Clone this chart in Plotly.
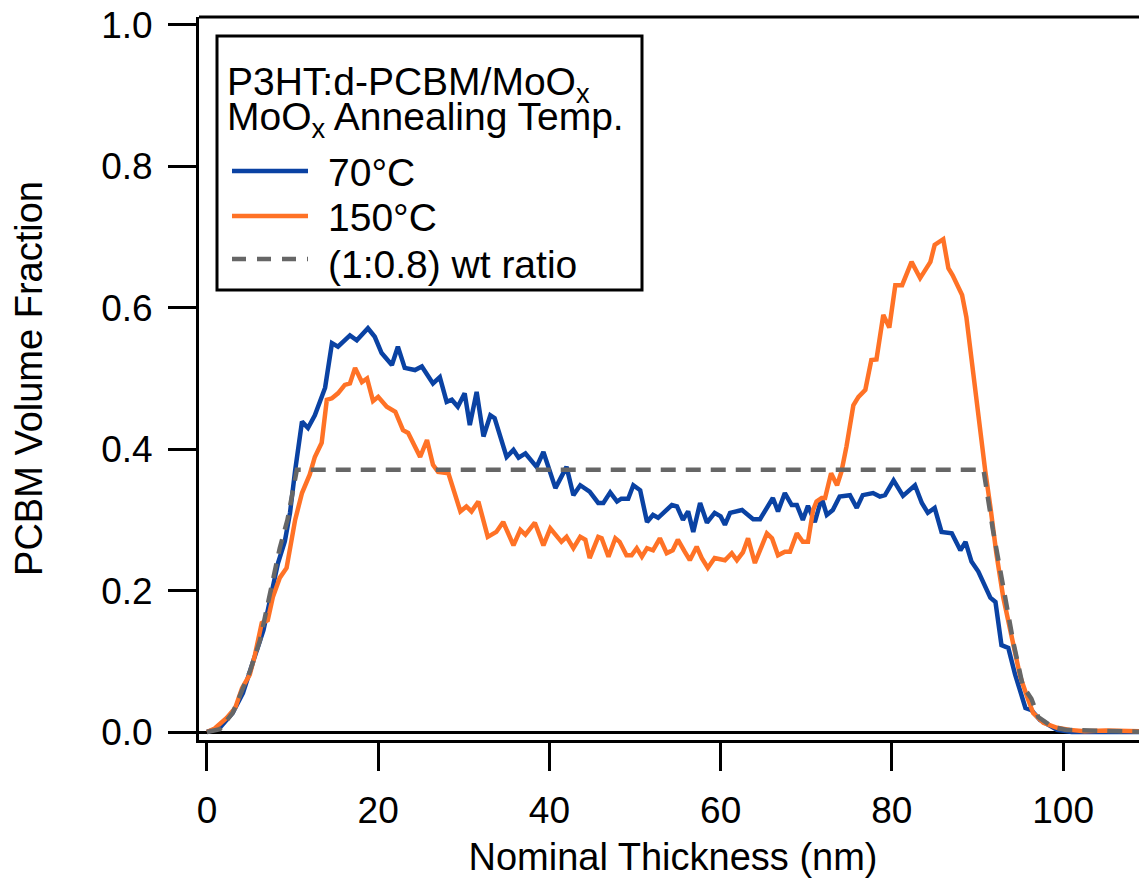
import plotly.graph_objects as go

# PCBM depth profiles
thick_70 = [0.0, 1.5, 3.0, 4.2, 5.4, 6.6, 7.6, 8.3, 9.1, 9.7, 10.3, 11.1, 11.8, 12.6, 13.8,
            14.6, 15.3, 16.7, 17.5, 18.8, 19.6, 20.4, 21.6, 22.3, 23.1, 24.3, 25.1, 26.4,
            27.2, 28.0, 28.6, 29.3, 30.1, 30.7, 31.5, 32.3, 33.1, 33.6, 35.0, 35.8, 36.4,
            37.2, 38.5, 39.3, 40.7, 42.0, 42.8, 43.6, 44.7, 45.7, 46.3, 47.1, 47.9, 48.4,
            49.2, 49.8, 50.6, 51.4, 52.1, 52.7, 54.3, 54.9, 55.6, 56.2, 56.8, 57.6, 58.4,
            59.3, 60.0, 60.5, 61.1, 62.5, 63.8, 64.6, 66.1, 66.7, 67.5, 68.3, 68.9, 69.6,
            70.2, 71.0, 71.8, 72.4, 73.1, 73.9, 75.1, 75.9, 76.6, 77.8, 78.6, 79.2, 80.2,
            81.3, 82.7, 83.5, 84.2, 85.0, 85.8, 87.0, 88.0, 88.6, 89.3, 90.1, 91.5, 92.1,
            92.8, 93.6, 94.4, 95.6, 96.3, 97.3, 99.3, 101.0, 104.0, 107.0, 110.0]
frac_70 = [0.000, 0.006, 0.027, 0.055, 0.100, 0.144, 0.200, 0.239, 0.270, 0.310, 0.370,
           0.439, 0.430, 0.448, 0.487, 0.550, 0.545, 0.561, 0.554, 0.571, 0.559, 0.536,
           0.519, 0.545, 0.515, 0.512, 0.517, 0.493, 0.502, 0.467, 0.470, 0.460, 0.479,
           0.434, 0.481, 0.418, 0.448, 0.444, 0.389, 0.399, 0.388, 0.394, 0.375, 0.396,
           0.345, 0.375, 0.335, 0.349, 0.340, 0.324, 0.324, 0.339, 0.326, 0.330, 0.330,
           0.349, 0.342, 0.297, 0.307, 0.303, 0.321, 0.319, 0.300, 0.312, 0.283, 0.324,
           0.296, 0.310, 0.305, 0.293, 0.310, 0.314, 0.301, 0.301, 0.331, 0.312, 0.338,
           0.321, 0.321, 0.300, 0.320, 0.297, 0.331, 0.307, 0.314, 0.333, 0.335, 0.317,
           0.335, 0.338, 0.333, 0.335, 0.356, 0.334, 0.349, 0.324, 0.310, 0.317, 0.283,
           0.281, 0.257, 0.269, 0.241, 0.227, 0.190, 0.184, 0.123, 0.119, 0.081, 0.034,
           0.031, 0.017, 0.003, 0.000, 0.000, 0.000, 0.000]

thick_150 = [0.0, 0.9, 2.3, 3.3, 4.1, 5.0, 5.6, 6.4, 7.1, 7.7, 8.5, 9.3, 10.3, 11.1, 12.0,
             12.6, 13.4, 14.0, 14.6, 15.3, 16.1, 16.7, 17.3, 18.1, 18.7, 19.4, 20.0, 21.0,
             22.0, 22.9, 23.5, 24.9, 25.7, 26.4, 27.0, 28.2, 29.6, 30.3, 30.9, 31.7, 32.8,
             33.8, 34.6, 35.8, 36.6, 37.2, 38.3, 39.3, 40.1, 41.4, 42.0, 42.8, 43.6, 44.2,
             44.7, 45.7, 46.1, 46.9, 47.7, 48.2, 49.0, 49.6, 50.2, 50.8, 51.4, 52.1, 52.9,
             53.7, 54.4, 55.0, 55.8, 56.4, 57.2, 57.8, 58.5, 59.3, 60.5, 61.3, 61.9, 62.6,
             63.2, 64.0, 65.4, 66.0, 66.7, 67.5, 68.1, 68.9, 69.6, 70.2, 70.8, 71.2, 71.8,
             72.2, 72.9, 73.6, 74.1, 74.7, 75.5, 76.1, 76.9, 77.6, 78.2, 79.0, 79.7, 80.4,
             81.2, 82.3, 83.3, 84.5, 85.0, 86.0, 86.6, 87.1, 88.2, 88.7, 89.5, 90.3, 90.9,
             91.5, 92.2, 93.0, 94.2, 95.0, 95.8, 96.5, 97.7, 99.3, 100.8, 102.5, 105.0,
             107.5, 110.0]
frac_150 = [0.000, 0.005, 0.020, 0.034, 0.062, 0.081, 0.109, 0.154, 0.158, 0.191, 0.218,
            0.232, 0.300, 0.338, 0.364, 0.389, 0.409, 0.470, 0.472, 0.479, 0.491, 0.493,
            0.515, 0.495, 0.500, 0.468, 0.474, 0.460, 0.453, 0.427, 0.423, 0.389, 0.413,
            0.378, 0.368, 0.366, 0.312, 0.319, 0.312, 0.326, 0.276, 0.283, 0.297, 0.264,
            0.286, 0.279, 0.296, 0.264, 0.288, 0.269, 0.276, 0.260, 0.276, 0.272, 0.246,
            0.276, 0.274, 0.248, 0.274, 0.269, 0.250, 0.250, 0.260, 0.248, 0.260, 0.257,
            0.274, 0.253, 0.257, 0.272, 0.255, 0.243, 0.262, 0.246, 0.232, 0.246, 0.243,
            0.253, 0.243, 0.254, 0.274, 0.239, 0.281, 0.274, 0.250, 0.255, 0.255, 0.281,
            0.269, 0.269, 0.314, 0.326, 0.331, 0.331, 0.366, 0.349, 0.368, 0.404, 0.462,
            0.474, 0.484, 0.526, 0.527, 0.590, 0.572, 0.632, 0.632, 0.665, 0.642, 0.665,
            0.689, 0.697, 0.656, 0.646, 0.618, 0.587, 0.508, 0.423, 0.370, 0.319, 0.253,
            0.191, 0.126, 0.078, 0.050, 0.027, 0.013, 0.006, 0.003, 0.001, 0.002, 0.001,
            0.001]

thick_ratio = [0.0, 1.5, 3.0, 5.0, 6.2, 7.4, 8.5, 9.4, 10.3, 10.5, 90.7, 91.8, 93.0, 94.2,
               95.3, 96.3, 97.1, 98.8, 100.4, 110.0]
frac_ratio = [0.000, 0.004, 0.027, 0.085, 0.130, 0.200, 0.260, 0.300, 0.360, 0.371, 0.371,
              0.286, 0.206, 0.126, 0.065, 0.047, 0.021, 0.007, 0.003, 0.000]

BLUE = '#0a42a3'
ORANGE = '#ff7226'
GREY = '#666666'
FONT = 'Liberation Sans, Arial, sans-serif'

fig = go.Figure()
fig.add_trace(go.Scatter(x=thick_70, y=frac_70, mode='lines', name='70°C',
                         line=dict(color=BLUE, width=4.5)))
fig.add_trace(go.Scatter(x=thick_150, y=frac_150, mode='lines', name='150°C',
                         line=dict(color=ORANGE, width=4.5)))
fig.add_trace(go.Scatter(x=thick_ratio, y=frac_ratio, mode='lines', name='(1:0.8) wt ratio',
                         line=dict(color=GREY, width=4.5, dash='15px,10px')))

W, H = 1147, 881
OFF = 8  # page body margin
# plot area in page pixels
L, R, T, B = 199, 1147, 17, 740


def px(x):
    return (x - L) / (R - L)


def py(y):
    return (B - y) / (B - T)


# top frame line
shapes = [dict(type='line', xref='paper', yref='paper', x0=0, x1=1, y0=1, y1=1,
               line=dict(color='black', width=3), layer='above')]
# hand-made legend box (Igor style)
shapes.append(dict(type='rect', xref='paper', yref='paper', x0=px(217), x1=px(642),
                   y0=py(290), y1=py(36), line=dict(color='black', width=3),
                   fillcolor='white', layer='above'))
annos = []
rows = [('P3HT:d-PCBM/MoO<sub>x</sub>', 84, None, None),
        ('MoO<sub>x</sub> Annealing Temp.', 119, None, None),
        ('70°C', 172, 171, dict(color=BLUE, width=4.5)),
        ('150°C', 217, 216, dict(color=ORANGE, width=4.5)),
        ('(1:0.8) wt ratio', 264, 259, dict(color=GREY, width=4.5, dash='14px,11px'))]
for txt, yc, yl, ln in rows:
    xt = 225 if ln is None else 326
    annos.append(dict(text=txt, xref='paper', yref='paper', x=px(xt), y=py(yc),
                      xanchor='left', yanchor='middle', showarrow=False,
                      font=dict(size=39, color='black', family=FONT)))
    if ln is not None:
        shapes.append(dict(type='line', xref='paper', yref='paper', x0=px(232), x1=px(308),
                           y0=py(yl), y1=py(yl), line=ln, layer='above'))

fig.update_layout(
    width=W, height=H,
    margin=dict(l=L - OFF, r=W - R + OFF, t=T - OFF, b=H - B + OFF),
    plot_bgcolor='white', paper_bgcolor='white',
    showlegend=False,
    font=dict(family=FONT, size=36, color='black'),
    shapes=shapes, annotations=annos,
    xaxis=dict(range=[-0.93, 109.8], tickvals=[0, 20, 40, 60, 80, 100],
               ticks='outside', ticklen=28, tickwidth=3, tickcolor='black',
               showline=True, linewidth=3, linecolor='black', mirror=False,
               showgrid=False, zeroline=False, automargin=False,
               tickfont=dict(size=37), ticklabelstandoff=8, ticklabeloverflow='allow',
               title=dict(text='Nominal Thickness (nm)', font=dict(size=38), standoff=13)),
    yaxis=dict(range=[-0.0113, 1.0113], tickvals=[0, 0.2, 0.4, 0.6, 0.8, 1.0],
               tickformat='.1f',
               ticks='outside', ticklen=28, tickwidth=3, tickcolor='black',
               showline=True, linewidth=3, linecolor='black', mirror=False,
               showgrid=False, zeroline=True, zerolinecolor='black', zerolinewidth=3,
               automargin=False, ticklabeloverflow='allow',
               tickfont=dict(size=37), ticklabelstandoff=8,
               title=dict(text='PCBM Volume Fraction', font=dict(size=38), standoff=48)),
)

fig.write_html('out.html')
